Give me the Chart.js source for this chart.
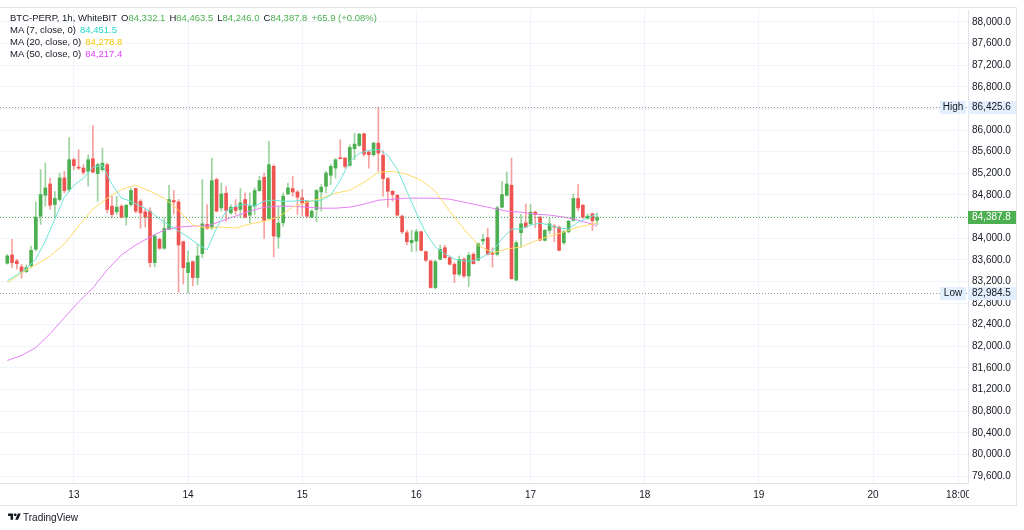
<!DOCTYPE html>
<html>
<head>
<meta charset="utf-8">
<script src="https://cdn.jsdelivr.net/npm/chart.js@4.4.1/dist/chart.umd.min.js"></script>
<style>
  html, body { margin: 0; padding: 0; background: #fff; }
  #wrap { position: relative; width: 1024px; height: 530px; overflow: hidden;
          font-family: "Liberation Sans", Arial, sans-serif; color: #131722; }
  #chart { position: absolute; left: 0; top: 0; }
  .row { position: absolute; left: 10px; font-size: 9.5px; line-height: 12px; white-space: pre; }
  .row b { font-weight: normal; margin-left: 4px; }
  .up { color: #4caf50; }
  #logo { position: absolute; left: 8px; top: 512px; font-size: 10px; line-height: 12px; }
  #logo svg { vertical-align: -1px; margin-right: 2px; }
</style>
</head>
<body>
<div id="wrap">
  <canvas id="chart" width="1024" height="530"></canvas>
  <div class="row" id="head" style="top:12px"></div>
  <div class="row" id="ma7row" style="top:24px"></div>
  <div class="row" id="ma20row" style="top:36px"></div>
  <div class="row" id="ma50row" style="top:48px"></div>
  <div id="logo"><svg width="13" height="10" viewBox="0 0 36 28"><path d="M14 22H7V11H0V4h14v18zM28 22h-8l7.5-18h8L28 22z" fill="#131722"/><circle cx="20" cy="8" r="4" fill="#131722"/></svg>TradingView</div>
</div>
<script>
// BTC-PERP 1h candles, first candle = 12 Mar 10:00 (hours counted from 13 Mar 00:00)
const startHour = -14;

const open = [83537, 83690, 83579, 83468, 83382, 83487, 83794, 84408, 84794, 85003,
  84623, 84715, 85113, 84900, 85452, 85310, 85297, 85237, 85470, 85194,
  85268, 85360, 84592, 84487, 84592, 84389, 84623, 84918, 84684, 84487,
  84500, 83548, 83979, 83813, 84163, 84697, 84671, 83934, 83363, 83566,
  83271, 83713, 84255, 84192, 85084, 84561, 84831, 84468, 84573, 84531,
  84715, 84426, 84592, 84881, 85126, 84365, 85329, 84021, 84284, 84818,
  84918, 84855, 84745, 84684, 84389, 84531, 84855, 84960, 85163, 85297,
  85482, 85482, 85347, 85655, 85716, 85931, 85592, 85544, 85758, 85531,
  85102, 84868, 84794, 84408, 84100, 83916, 83948, 84118, 83750, 83579,
  83087, 83610, 83824, 83640, 83518, 83334, 83610, 83302, 83702, 83592,
  83948, 84008, 83732, 83702, 84573, 84794, 84979, 83223, 84100, 84284,
  84266, 84481, 84389, 83960, 84144, 84224, 84205, 83916, 84118, 84328,
  84734, 84610, 84365, 84450, 84332.1];
const high = [83702, 83979, 83610, 83518, 83505, 83855, 84671, 85268, 85389, 85113,
  84868, 85205, 85237, 85863, 85482, 85636, 85360, 85544, 86084, 85389,
  85666, 85389, 84776, 84776, 84623, 84623, 84929, 84929, 84715, 84561,
  84561, 84071, 84008, 84376, 84979, 84881, 84715, 83948, 83763, 83579,
  83886, 85084, 84623, 85482, 85113, 85021, 84960, 84623, 84715, 84918,
  84837, 84837, 84929, 85144, 85205, 85790, 85360, 84592, 84837, 85021,
  85144, 84881, 84900, 84700, 84531, 84900, 84992, 85237, 85360, 85470,
  85821, 85490, 85728, 85942, 85942, 85942, 85618, 85776, 86425.6, 85618,
  85126, 84881, 84807, 84426, 84144, 84144, 84163, 84132, 83763, 83592,
  83592, 83874, 83874, 83671, 83548, 83671, 83640, 83732, 83732, 83916,
  84071, 84181, 83824, 84592, 85053, 85224, 85482, 83948, 84439, 84634,
  84623, 84500, 84408, 84163, 84365, 84255, 84224, 84144, 84328, 84818,
  84992, 84623, 84450, 84468, 84463.5];
const low = [83518, 83456, 83426, 83260, 83363, 83455, 83763, 84255, 84592, 84531,
  84376, 84684, 84837, 84868, 85268, 85268, 85176, 84960, 85205, 84684,
  85237, 84468, 84376, 84439, 84376, 84242, 84592, 84468, 84181, 84205,
  83468, 83468, 83794, 83794, 84163, 84450, 83000, 83150, 82984.5, 83118,
  83137, 83640, 84163, 84163, 84487, 84500, 84316, 84439, 84439, 84389,
  84376, 84284, 84439, 84868, 83997, 84347, 83652, 83813, 84223, 84807,
  84776, 84439, 84408, 84376, 84376, 84303, 84500, 84837, 84992, 85113,
  85465, 85297, 85329, 85452, 85697, 85513, 85297, 85513, 85237, 84776,
  84573, 84684, 84408, 84082, 83874, 83750, 83763, 83763, 83566, 83076,
  83058, 83592, 83629, 83505, 83179, 83302, 83271, 83100, 83518, 83579,
  83886, 83690, 83468, 83671, 84561, 84776, 83240, 83211, 83824, 84192,
  84255, 84192, 83948, 83948, 84082, 83934, 83763, 83886, 84100, 84316,
  84500, 84365, 84347, 84144, 84246.0];
const close = [83671, 83548, 83529, 83376, 83455, 83776, 84389, 84807, 84929, 84610,
  84734, 85113, 84881, 85452, 85342, 85297, 85218, 85452, 85224, 85360,
  85389, 84531, 84439, 84573, 84389, 84610, 84881, 84500, 84468, 84389,
  83548, 84039, 83813, 84181, 84715, 84671, 83874, 83455, 83548, 83271,
  83671, 84266, 84181, 85065, 84500, 84818, 84513, 84573, 84513, 84653,
  84389, 84592, 84881, 85065, 84328, 85360, 84039, 84279, 84776, 84929,
  84855, 84758, 84653, 84408, 84500, 84881, 84942, 85205, 85329, 85452,
  85470, 85329, 85679, 85740, 85924, 85555, 85544, 85758, 85574, 85102,
  84868, 84807, 84426, 84118, 83934, 83960, 84118, 83776, 83592, 83087,
  83566, 83794, 83640, 83518, 83334, 83610, 83302, 83684, 83529, 83897,
  83979, 83702, 83702, 84561, 84807, 85003, 83250, 83916, 84266, 84205,
  84481, 84439, 83966, 84144, 84266, 84205, 83776, 84118, 84316, 84734,
  84561, 84389, 84408, 84321.9, 84387.8];

// moving averages: MA7 every 2nd candle, MA20 / MA50 every 3rd candle (+ last)
const ma7 = [83211, 83321, 83432, 83616, 83948, 84353, 84758, 84979, 85108, 85311,
  85347, 84998, 84740, 84684, 84592, 84500, 84353, 84242, 84132, 84021,
  83892, 83782, 84187, 84500, 84592, 84629, 84592, 84684, 84703, 84684,
  84684, 84703, 84684, 84703, 84795, 85071, 85421, 85569, 85624, 85642,
  85532, 85274, 84868, 84463, 84095, 83837, 83708, 83616, 83579, 83579,
  83653, 83763, 83984, 84169, 84169, 84242, 84279, 84242, 84187, 84169,
  84298, 84371, 84451.5];
const ma20 = [83174, 83358, 83506, 83671, 83892, 84224, 84537, 84740, 84905, 84979,
  84868, 84740, 84518, 84242, 84187, 84206, 84187, 84261, 84316, 84390,
  84574, 84666, 84740, 84832, 84887, 85034, 85218, 85237, 85182, 85071,
  84868, 84500, 84169, 83874, 83727, 83800, 83837, 83948, 84040, 84113,
  84206, 84261, 84278.8];
const ma50 = [81737, 81829, 81977, 82234, 82529, 82824, 83082, 83413, 83690, 83874,
  84021, 84150, 84206, 84224, 84224, 84316, 84408, 84500, 84574, 84592,
  84592, 84574, 84555, 84555, 84574, 84629, 84703, 84721, 84740, 84740,
  84740, 84721, 84666, 84611, 84555, 84500, 84482, 84445, 84427, 84390,
  84334, 84261, 84217.4];

const priceTicks = [79600, 80000, 80400, 80800, 81200, 81600, 82000, 82400, 82800, 83200,
  83600, 84000, 84400, 84800, 85200, 85600, 86000, 86400, 86800, 87200, 87600, 88000];
const timeTicks = [0, 24, 48, 72, 96, 120, 144, 168, 186];
const timeLabels = ['13', '14', '15', '16', '17', '18', '19', '20', '18:00'];

const UP = '#4caf50', DOWN = '#ef5350';
const UP_WICK = 'rgba(76,175,80,0.55)', DOWN_WICK = 'rgba(239,83,80,0.55)';
const fmt = v => v.toLocaleString('en-US', { minimumFractionDigits: 1, maximumFractionDigits: 1 });

const n = close.length;
const hourOf = i => startHour + i;
const isUp = close.map((c, i) => c >= open[i]);

function maPoints(vals, step) {
  return vals.map((v, k) => ({ x: hourOf(Math.min(k * step, n - 1)), y: v }));
}

// header texts
const last = n - 1;
const chg = close[last] - close[last - 1];
document.getElementById('head').innerHTML =
  'BTC-PERP, 1h, WhiteBIT<b>O</b><span class="up">' + fmt(open[last]) + '</span><b>H</b><span class="up">' + fmt(high[last]) +
  '</span><b>L</b><span class="up">' + fmt(low[last]) + '</span><b>C</b><span class="up">' + fmt(close[last]) +
  '</span><b class="up">+' + chg.toFixed(1) + ' (+' + (chg / close[last - 1] * 100).toFixed(2) + '%)</b>';
document.getElementById('ma7row').innerHTML = 'MA (7, close, 0)<b style="color:#22d6c4">' + fmt(ma7[ma7.length - 1]) + '</b>';
document.getElementById('ma20row').innerHTML = 'MA (20, close, 0)<b style="color:#f7c600">' + fmt(ma20[ma20.length - 1]) + '</b>';
document.getElementById('ma50row').innerHTML = 'MA (50, close, 0)<b style="color:#e040fb">' + fmt(ma50[ma50.length - 1]) + '</b>';

const hiVal = Math.max(...high), loVal = Math.min(...low);

const overlay = {
  id: 'overlay',
  afterDatasetsDraw(chart) {
    const { ctx, chartArea: a, scales: { y } } = chart;
    ctx.save();
    ctx.lineWidth = 1;
    [[hiVal, '#9598a1'], [loVal, '#9598a1'], [close[last], '#4caf50']].forEach(([v, c]) => {
      const py = Math.round(y.getPixelForValue(v)) + 0.5;
      ctx.strokeStyle = c;
      ctx.setLineDash([1, 2]);
      ctx.beginPath(); ctx.moveTo(a.left, py); ctx.lineTo(a.right, py); ctx.stroke();
    });
    ctx.restore();
  },
  afterDraw(chart) {
    const { ctx, chartArea: a, scales: { y } } = chart;
    ctx.save();
    // clip time labels at the price scale
    ctx.fillStyle = '#fff';
    ctx.fillRect(a.right + 1, a.bottom + 1, 1016 - a.right - 1, 21);
    ctx.font = '10px "Liberation Sans", Arial, sans-serif';
    ctx.textBaseline = 'middle';
    const tag = (v, label, bg, fg) => {
      const py = Math.round(y.getPixelForValue(v));
      ctx.fillStyle = bg;
      ctx.fillRect(a.right, py - 6, 48, 13);
      ctx.fillStyle = fg;
      ctx.textAlign = 'left';
      ctx.fillText(fmt(v), a.right + 4, py + 0.5);
      if (label) {
        ctx.fillStyle = bg;
        ctx.fillRect(a.right - 28, py - 6, 26, 13);
        ctx.fillStyle = fg;
        ctx.textAlign = 'center';
        ctx.fillText(label, a.right - 15, py + 0.5);
      }
    };
    tag(hiVal, 'High', '#e3effd', '#131722');
    tag(loVal, 'Low', '#e3effd', '#131722');
    tag(close[last], null, '#4caf50', '#fff');
    // frame
    ctx.strokeStyle = '#e0e3eb';
    ctx.lineWidth = 1;
    ctx.beginPath();
    ctx.moveTo(0, 7.5); ctx.lineTo(1016.5, 7.5);
    ctx.moveTo(0, 505.5); ctx.lineTo(1016.5, 505.5); ctx.lineTo(1016.5, 7.5);
    ctx.stroke();
    ctx.restore();
  }
};

new Chart(document.getElementById('chart'), {
  data: {
    datasets: [
      { type: 'line', data: maPoints(ma7, 2), borderColor: '#6fe3d8', borderWidth: 1, pointRadius: 0, order: 0 },
      { type: 'line', data: maPoints(ma20, 3), borderColor: '#ffdc66', borderWidth: 1, pointRadius: 0, order: 0 },
      { type: 'line', data: maPoints(ma50, 3), borderColor: '#e680f5', borderWidth: 1, pointRadius: 0, order: 0 },
      { type: 'bar', data: open.map((o, i) => ({ x: hourOf(i), y: [o, close[i]] })),
        backgroundColor: isUp.map(u => u ? UP : DOWN), barThickness: 3, minBarLength: 1, grouped: false, order: 1 },
      { type: 'bar', data: low.map((l, i) => ({ x: hourOf(i), y: [l, high[i]] })),
        backgroundColor: isUp.map(u => u ? UP_WICK : DOWN_WICK), barThickness: 1, grouped: false, order: 2 }
    ]
  },
  options: {
    responsive: false,
    animation: false,
    events: [],
    layout: { padding: { left: 0, top: 8, right: 8, bottom: 25 } },
    plugins: { legend: { display: false }, tooltip: { enabled: false } },
    scales: {
      x: {
        type: 'linear', offset: false,
        min: -15.535, max: 187.97,
        afterBuildTicks: s => { s.ticks = timeTicks.map(v => ({ value: v })); },
        afterFit: s => { s.height = 22; },
        ticks: { callback: v => timeLabels[timeTicks.indexOf(v)], maxRotation: 0, autoSkip: false,
                 padding: 6, color: '#131722', font: { size: 10, family: '"Liberation Sans", Arial, sans-serif' } },
        grid: { color: '#f0f3fa', drawTicks: false, offset: false },
        border: { color: '#e0e3eb' }
      },
      y: {
        position: 'right',
        min: 79471, max: 88221,
        afterBuildTicks: s => { s.ticks = priceTicks.map(v => ({ value: v })); },
        afterFit: s => { s.width = 48; },
        ticks: { callback: v => fmt(v), padding: 4, color: '#131722',
                 font: { size: 10, family: '"Liberation Sans", Arial, sans-serif' } },
        grid: { color: '#f0f3fa', drawTicks: false },
        border: { color: '#e0e3eb' }
      }
    }
  },
  plugins: [overlay]
});
</script>
</body>
</html>
